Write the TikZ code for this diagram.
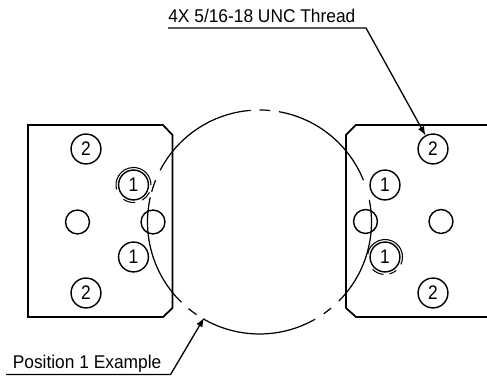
\documentclass[tikz,border=0pt]{standalone}
\usepackage{fontspec}
\setmainfont{Liberation Sans}
\newfontfamily\notefont[FakeStretch=0.94]{Liberation Sans}
\newfontfamily\digitfont[FakeStretch=0.88]{Liberation Sans}
\usetikzlibrary{arrows, calc, positioning}

\tikzset{
    hole/.style={draw, circle, line width=0.8pt, inner sep=0pt, minimum size=17pt, font=\digitfont\fontsize{11.2}{12}\selectfont},
    plainhole/.style={draw, circle, line width=0.8pt, inner sep=0pt, minimum size=13.6pt},
    plate/.style={line width=1pt},
    bore/.style={line width=0.7pt},
    ring/.style={line width=0.6pt},
    leader/.style={line width=0.75pt, >=latex},
    note/.style={anchor=base west, inner sep=0pt, font=\notefont\fontsize{10.5}{12}\selectfont}
}

\begin{document}
\begin{tikzpicture}[x=0.02cm, y=0.02cm]
    \useasboundingbox (0, 0) rectangle (487, 377);

    \draw[plate]
    (163, 252) -- (28, 252) -- (28, 60) -- (163, 60) -- (172.5, 69) -- (172.5, 242) -- cycle
    (487, 252) -- (356, 252) -- (346, 242) -- (346, 69) -- (356, 60) -- (487, 60);

    \node[hole] (holeA) at (86, 228) {2};
    \node[hole] (holeB) at (133.5, 192) {1};
    \node[plainhole] (holeC) at (77.5, 155) {};
    \node[plainhole] (holeD) at (153, 155) {};
    \node[hole] (holeE) at (133.5, 120) {1};
    \node[hole] (holeF) at (86, 84) {2};

    \node[hole] (holeG) at (433, 228) {2};
    \node[hole] (holeH) at (385, 192) {1};
    \node[plainhole] (holeI) at (365.5, 155.5) {};
    \node[plainhole] (holeJ) at (441, 155.5) {};
    \node[hole] (holeK) at (385, 120) {1};
    \node[hole] (holeL) at (433, 84) {2};

    % bore outline
    \draw[bore]
    (259.5, 155) ++(80:112) arc (80:21.9:112)
    (259.5, 155) ++(11.4:112) arc (11.4:-45:112)
    (259.5, 155) ++(-50.3:112) arc (-50.3:-55:112)
    (259.5, 155) ++(-60.2:112) arc (-60.2:-120:112)
    (259.5, 155) ++(-124.2:112) arc (-124.2:-129.3:112)
    (259.5, 155) ++(-134.2:112) arc (-134.2:-192.7:112)
    (259.5, 155) ++(158.1:112) arc (158.1:164.3:112)
    (259.5, 155) ++(94.5:112) arc (94.5:152.5:112)
    (259.5, 155) ++(84.6:112) arc (84.6:90:112);

    % position 1 rings
    \draw[ring]
    (holeB.center) ++(0:17.5) arc (0:195:17.5)
    (holeB.center) ++(235:17.5) arc (235:275:17.5)
    (holeB.center) ++(300:17.5) arc (300:335:17.5)
    (holeK.center) ++(-25:17.5) arc (-25:170:17.5)
    (holeK.center) ++(225:17.5) arc (225:265:17.5)
    (holeK.center) ++(285:17.5) arc (285:310:17.5);

    \node[note] (threadnote) at (168, 354) {4X 5/16-18 UNC Thread};
    \coordinate (threadstart) at (168, 349);
    \coordinate (threadknee) at (366, 349);
    \draw[leader, ->] (threadstart) -- (threadknee) -- (holeG);

    \node[note] (positionnote) at (12.5, 8) {Position 1 Example};
    \coordinate (positionstart) at (6, 2.5);
    \coordinate (positionknee) at (170.6, 2.5);
    \coordinate (positiontip) at (204, 59);
    \draw[leader, ->] (positionstart) -- (positionknee) -- (positiontip);
\end{tikzpicture}
\end{document}
